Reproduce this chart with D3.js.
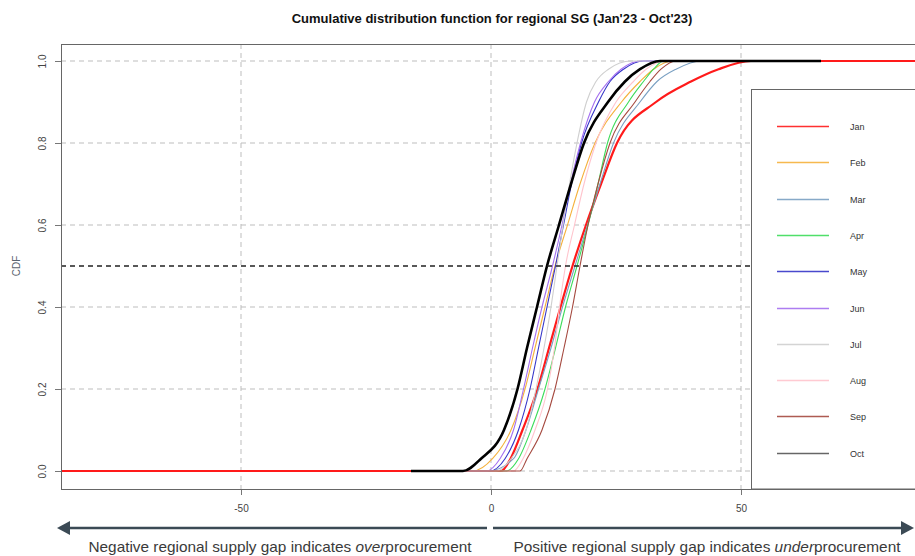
<!DOCTYPE html>
<html>
<head>
<meta charset="utf-8">
<script src="https://cdn.jsdelivr.net/npm/d3@7"></script>
<style>
  body { margin: 0; background: #fff; }
  svg { display: block; font-family: 'Liberation Sans', Arial, sans-serif; }
</style>
</head>
<body>
<script>
// months and line colours
const months = ['Jan', 'Feb', 'Mar', 'Apr', 'May', 'Jun', 'Jul', 'Aug', 'Sep', 'Oct']
const colors = ['#ff1a1a', '#f5b13c', '#7aa0c2', '#3ddc5a', '#3535c8', '#a46ff0', '#cfcfcf', '#ffc4cd', '#a5493f', '#000000']

const cdfLevels = [0, 0.03, 0.1, 0.2, 0.3, 0.4, 0.5, 0.6, 0.7, 0.8, 0.9, 0.95, 0.98, 1]
const gapJan = [2.0, 3.9, 6.3, 9.3, 11.6, 13.9, 16.3, 19.0, 22.0, 25.2, 33.0, 40.0, 45.5, 52.0]
const gapFeb = [-3.6, 0.3, 4.0, 6.8, 8.8, 10.8, 12.8, 15.3, 17.8, 20.8, 26.1, 29.8, 32.5, 36.4]
const gapMar = [-0.5, 4.5, 7.0, 9.5, 12.0, 14.3, 16.8, 19.3, 21.8, 24.5, 29.8, 33.2, 37.0, 42.0]
const gapApr = [3.1, 5.5, 8.0, 10.8, 12.9, 14.9, 17.2, 19.4, 21.4, 23.3, 27.5, 30.5, 32.5, 34.5]
const gapMay = [-0.2, 2.8, 5.5, 7.8, 9.5, 11.2, 12.9, 14.5, 16.1, 18.1, 21.5, 23.8, 26.5, 30.5]
const gapJun = [-0.9, 1.8, 4.5, 6.5, 8.3, 10.2, 12.3, 14.2, 15.9, 17.9, 20.7, 23.5, 26.0, 30.0]
const gapJul = [1.0, 4.0, 7.0, 9.0, 10.6, 12.0, 13.2, 14.4, 15.7, 17.2, 19.1, 21.0, 23.5, 28.0]
const gapAug = [4.5, 6.4, 8.8, 11.3, 12.7, 13.7, 14.9, 16.7, 18.6, 21.0, 25.0, 28.5, 31.0, 35.0]
const gapSep = [5.8, 7.2, 10.2, 12.8, 14.6, 16.3, 17.8, 19.4, 21.4, 23.8, 28.8, 31.8, 34.0, 37.0]
const gapOct = [-5.6, -2.0, 2.6, 5.3, 7.2, 9.2, 11.2, 13.6, 16.0, 18.6, 23.4, 26.8, 29.8, 33.8]
const gapByMonth = [gapJan, gapFeb, gapMar, gapApr, gapMay, gapJun, gapJul, gapAug, gapSep, gapOct]

// flat tails of each step function (smallest and largest observed gap)
const tailStart = [-90, -12, -10, -8, -11, -12, -9, -7, -6, -16]
const tailEnd = [90, 55, 58, 52, 50, 48, 45, 50, 54, 66]

const xTicks = [-50, 0, 50]
const yTicks = [0, 0.2, 0.4, 0.6, 0.8, 1]

const width = 915
const height = 556
const plot = { left: 61, right: 921, top: 44, bottom: 489 }

const svg = d3.select('body')
  .append('svg')
  .attr('width', width)
  .attr('height', height)

const x = d3.scaleLinear().domain([-86, 86]).range([plot.left, plot.right])
const y = d3.scaleLinear().domain([0, 1]).range([471, 61])

// title
svg.append('text')
  .attr('x', 492)
  .attr('y', 23)
  .attr('text-anchor', 'middle')
  .attr('font-size', 13)
  .attr('font-weight', 'bold')
  .attr('fill', '#111')
  .text("Cumulative distribution function for regional SG (Jan'23 - Oct'23)")

// grid
const grid = svg.append('g')
  .attr('stroke', '#bdbdbd')
  .attr('stroke-dasharray', '5,4')

grid.selectAll('.gx')
  .data(xTicks)
  .enter()
  .append('line')
  .attr('x1', d => x(d))
  .attr('x2', d => x(d))
  .attr('y1', plot.top)
  .attr('y2', plot.bottom)

grid.selectAll('.gy')
  .data(yTicks)
  .enter()
  .append('line')
  .attr('x1', plot.left)
  .attr('x2', plot.right)
  .attr('y1', d => y(d))
  .attr('y2', d => y(d))

// ecdf curves
const line = d3.line()
  .x(d => x(d[0]))
  .y(d => y(d[1]))
  .curve(d3.curveMonotoneX)

const series = months.map((m, i) => {
  const pts = [[tailStart[i], 0]]
  gapByMonth[i].forEach((g, j) => pts.push([g, cdfLevels[j]]))
  pts.push([tailEnd[i], 1])
  return { month: m, color: colors[i], points: pts }
})

svg.append('clipPath')
  .attr('id', 'clip')
  .append('rect')
  .attr('x', plot.left)
  .attr('y', plot.top)
  .attr('width', plot.right - plot.left)
  .attr('height', plot.bottom - plot.top)

const curves = svg.append('g')
  .attr('clip-path', 'url(#clip)')

curves.selectAll('path')
  .data(series)
  .enter()
  .append('path')
  .attr('fill', 'none')
  .attr('stroke', d => d.color)
  .attr('stroke-width', d => d.month === 'Oct' ? 2.6 : (d.month === 'Jan' ? 2.2 : 1.1))
  .attr('d', d => line(d.points))

// median line
svg.append('line')
  .attr('x1', plot.left)
  .attr('x2', plot.right)
  .attr('y1', y(0.5))
  .attr('y2', y(0.5))
  .attr('stroke', '#222')
  .attr('stroke-width', 1.3)
  .attr('stroke-dasharray', '5,4')

// axes
const xAxis = svg.append('g')
  .attr('transform', `translate(0,${plot.bottom})`)
  .call(d3.axisBottom(x).tickValues(xTicks).tickSize(6).tickFormat(d3.format('d')))

xAxis.select('.domain').remove()
xAxis.selectAll('line').attr('stroke', '#777')
xAxis.selectAll('text')
  .attr('y', 16)
  .attr('font-size', 10)
  .attr('font-family', 'Liberation Sans, Arial, sans-serif')
  .attr('fill', '#444')
  .text(d => d < 0 ? '-' + Math.abs(d) : d)

const yAxis = svg.append('g')
  .attr('transform', `translate(${plot.left},0)`)
  .call(d3.axisLeft(y).tickValues(yTicks).tickSize(6).tickFormat(d3.format('.1f')))

yAxis.select('.domain').remove()
yAxis.selectAll('line').attr('stroke', '#777')
yAxis.selectAll('text')
  .attr('transform', 'rotate(-90)')
  .attr('x', 0)
  .attr('y', -15)
  .attr('dy', 0)
  .attr('text-anchor', 'middle')
  .attr('font-size', 10)
  .attr('font-family', 'Liberation Sans, Arial, sans-serif')
  .attr('fill', '#444')

svg.append('text')
  .attr('transform', `translate(20,${y(0.5)}) rotate(-90)`)
  .attr('text-anchor', 'middle')
  .attr('font-size', 10)
  .attr('fill', '#5a6470')
  .text('CDF')

// legend
const legend = svg.append('g')

legend.append('rect')
  .attr('x', 751.5)
  .attr('y', 89.5)
  .attr('width', 200)
  .attr('height', plot.bottom - 89.5)
  .attr('fill', '#fff')
  .attr('stroke', '#666')

const item = legend.selectAll('.item')
  .data(series)
  .enter()
  .append('g')
  .attr('transform', (d, i) => `translate(0,${Math.round(126 + i * 36.3) + 0.5})`)

item.append('line')
  .attr('x1', 777)
  .attr('x2', 829)
  .attr('stroke', d => d.color)
  .attr('stroke-width', 1.3)
  .attr('stroke-opacity', d => d.month === 'Oct' ? 0.6 : 0.9)

item.append('text')
  .attr('x', 850)
  .attr('dy', '0.35em')
  .attr('font-size', 9)
  .attr('fill', '#333')
  .text(d => d.month)

// plot frame
svg.append('rect')
  .attr('x', plot.left + 0.5)
  .attr('y', plot.top + 0.5)
  .attr('width', plot.right - plot.left)
  .attr('height', plot.bottom - plot.top)
  .attr('fill', 'none')
  .attr('stroke', '#666')

// direction arrows below the chart
const arrowY = 528
const arrowColor = '#3b4a55'
const arrows = svg.append('g')

arrows.append('line')
  .attr('x1', 66).attr('x2', 487)
  .attr('y1', arrowY).attr('y2', arrowY)
  .attr('stroke', arrowColor).attr('stroke-width', 2.5)

arrows.append('path')
  .attr('d', `M57,${arrowY} L70,${arrowY - 7} L70,${arrowY + 7} Z`)
  .attr('fill', arrowColor)

arrows.append('line')
  .attr('x1', 493).attr('x2', 905)
  .attr('y1', arrowY).attr('y2', arrowY)
  .attr('stroke', arrowColor).attr('stroke-width', 2.5)

arrows.append('path')
  .attr('d', `M914,${arrowY} L901,${arrowY - 7} L901,${arrowY + 7} Z`)
  .attr('fill', arrowColor)

const notes = [
  { x: 280, len: 383, pre: 'Negative regional supply gap indicates ', em: 'over', post: 'procurement' },
  { x: 707, len: 387, pre: 'Positive regional supply gap indicates ', em: 'under', post: 'procurement' }
]

const note = svg.selectAll('.note')
  .data(notes)
  .enter()
  .append('text')
  .attr('x', d => d.x)
  .attr('y', 552)
  .attr('text-anchor', 'middle')
  .attr('font-size', 15)
  .attr('font-family', "'Liberation Sans Narrow', 'Arial Narrow', 'Liberation Sans', sans-serif")
  .attr('fill', '#3a3a3a')
  .attr('textLength', d => d.len)
  .attr('lengthAdjust', 'spacingAndGlyphs')

note.append('tspan').text(d => d.pre)
note.append('tspan').attr('font-style', 'italic').text(d => d.em)
note.append('tspan').text(d => d.post)
</script>
</body>
</html>
